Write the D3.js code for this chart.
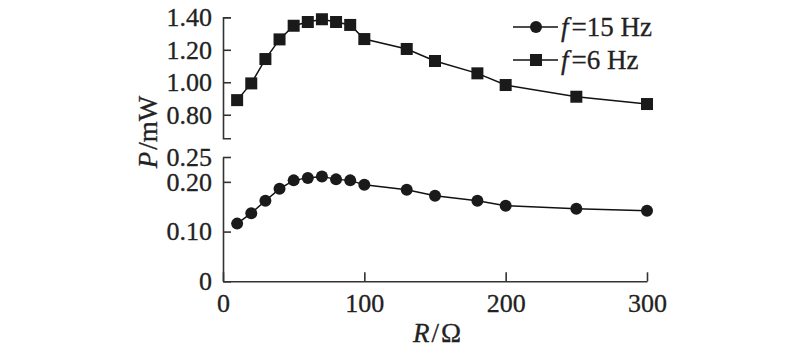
<!DOCTYPE html>
<html>
<head>
<meta charset="utf-8">
<script src="https://cdn.jsdelivr.net/npm/d3@7"></script>
<style>
  body { margin: 0; background: #fff; }
  svg text { font-family: "Times New Roman", "Liberation Serif", Times, serif; fill: #222; stroke: #222; stroke-width: 0.3px; }
</style>
</head>
<body>
<div id="container"></div>
<script>
/* DATA */
const resistance = [10, 20, 30, 40, 50, 60, 70, 80, 90, 100, 130, 150, 180, 200, 250, 300];
const power15Hz = [0.116, 0.137, 0.162, 0.186, 0.203, 0.208, 0.211, 0.205, 0.203, 0.194, 0.184, 0.172, 0.162, 0.152, 0.146, 0.142];
const power6Hz = [0.890, 0.993, 1.143, 1.264, 1.348, 1.371, 1.388, 1.371, 1.353, 1.266, 1.205, 1.131, 1.055, 0.983, 0.911, 0.866];
const xTicks = [0, 100, 200, 300];
const yLowTicks = [0, 0.10, 0.20, 0.25];
const yUpTicks = [0.80, 1.00, 1.20, 1.40];
const legendLabels = ["15 Hz", "6 Hz"];

const width = 800, height = 351;

const svg = d3.select("#container")
  .append("svg")
  .attr("width", width)
  .attr("height", height);

/* SCALES */
const xScale = d3.scaleLinear().domain([0, 300]).range([223, 647]);
const yLow = d3.scaleLinear().domain([0, 0.25]).range([281.3, 157]);
const yUp = d3.scaleLinear().domain([0.655, 1.40]).range([138.3, 17.3]);

const fmt = d => d === 0 ? "0" : d3.format(".2f")(d);

/* AXES */
const styleAxis = g => {
  g.attr("font-family", null);
  g.select(".domain").attr("stroke", "#333").attr("stroke-width", 1.6);
  g.selectAll(".tick line").attr("stroke", "#333").attr("stroke-width", 1.6);
  g.selectAll("text").attr("font-size", 26).attr("fill", "#222");
};

svg.append("g")
  .attr("transform", "translate(" + xScale(0) + ",0)")
  .call(d3.axisLeft(yLow).tickValues(yLowTicks).tickFormat(fmt)
    .tickSizeInner(-8).tickSizeOuter(0).tickPadding(11))
  .call(styleAxis);

svg.append("g")
  .attr("transform", "translate(" + xScale(0) + ",0)")
  .call(d3.axisLeft(yUp).tickValues(yUpTicks).tickFormat(fmt)
    .tickSizeInner(-8).tickSizeOuter(-8).tickPadding(11))
  .call(styleAxis);

svg.append("g")
  .attr("transform", "translate(0," + yLow(0) + ")")
  .call(d3.axisBottom(xScale).tickValues(xTicks)
    .tickSizeInner(-9).tickSizeOuter(0).tickPadding(12))
  .call(styleAxis);

/* AXIS TITLES */
const xTitle = svg.append("text")
  .attr("x", 437).attr("y", 342)
  .attr("text-anchor", "middle")
  .attr("font-size", 27);
xTitle.append("tspan").attr("font-style", "italic").text("R");
xTitle.append("tspan").attr("dx", 2).text("/");
xTitle.append("tspan").attr("dx", 2).text("Ω");

const yTitle = svg.append("text")
  .attr("transform", "translate(157,132) rotate(-90)")
  .attr("text-anchor", "middle")
  .attr("font-size", 27);
yTitle.append("tspan").attr("font-style", "italic").text("P");
yTitle.append("tspan").attr("dx", 2).text("/mW");

/* LINES AND MARKERS */
const pts15 = resistance.map((r, i) => ({r: r, p: power15Hz[i]}));
const pts6 = resistance.map((r, i) => ({r: r, p: power6Hz[i]}));

svg.append("path")
  .datum(pts15)
  .attr("fill", "none").attr("stroke", "#111").attr("stroke-width", 1.5)
  .attr("d", d3.line().x(d => xScale(d.r)).y(d => yLow(d.p)));

svg.append("path")
  .datum(pts6)
  .attr("fill", "none").attr("stroke", "#111").attr("stroke-width", 1.5)
  .attr("d", d3.line().x(d => xScale(d.r)).y(d => yUp(d.p)));

svg.selectAll("circle.m15")
  .data(pts15)
  .join("circle")
  .attr("class", "m15")
  .attr("cx", d => xScale(d.r))
  .attr("cy", d => yLow(d.p))
  .attr("r", 6)
  .attr("fill", "#1a1a1a");

svg.selectAll("rect.m6")
  .data(pts6)
  .join("rect")
  .attr("class", "m6")
  .attr("x", d => xScale(d.r) - 6)
  .attr("y", d => yUp(d.p) - 6)
  .attr("width", 12)
  .attr("height", 12)
  .attr("fill", "#1a1a1a");

/* LEGEND */
const legend = svg.append("g").attr("transform", "translate(513,27)");
legendLabels.forEach((lab, i) => {
  const row = legend.append("g").attr("transform", "translate(0," + (i * 33) + ")");
  row.append("line").attr("x1", 0).attr("x2", 45).attr("y1", 0).attr("y2", 0)
    .attr("stroke", "#111").attr("stroke-width", 1.5);
  if (i === 0) {
    row.append("circle").attr("cx", 23).attr("cy", 0).attr("r", 6).attr("fill", "#1a1a1a");
  } else {
    row.append("rect").attr("x", 17).attr("y", -6).attr("width", 12).attr("height", 12).attr("fill", "#1a1a1a");
  }
  const t = row.append("text").attr("x", 48).attr("y", 9).attr("font-size", 27);
  t.append("tspan").attr("font-style", "italic").text("f");
  t.append("tspan").attr("dx", 3).text("=" + lab);
});
</script>
</body>
</html>
